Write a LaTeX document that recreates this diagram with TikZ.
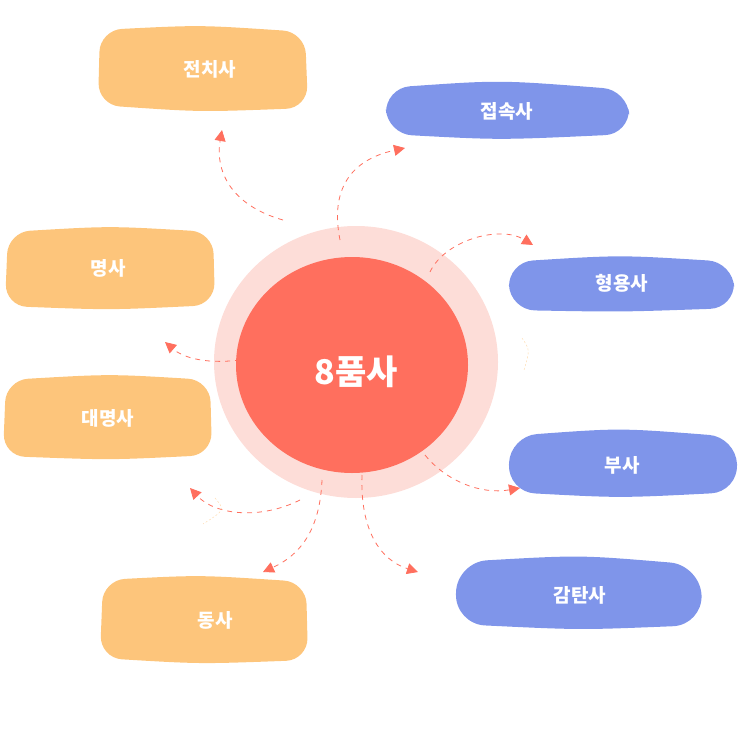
\documentclass[tikz,border=0pt]{standalone}
\usepackage{fontspec}
\newfontfamily\kr{Noto Sans CJK KR}
\usetikzlibrary{arrows.meta}
\definecolor{ora}{HTML}{FDC57B}
\definecolor{blu}{HTML}{7F95EA}
\definecolor{tom}{HTML}{FF6F5E}
\definecolor{pnk}{HTML}{FDDDD8}
\begin{document}
\begin{tikzpicture}[x=1pt,y=-1pt,
 lbl/.style={text=white,font=\kr\bfseries\fontsize{19}{22}\selectfont},
 blob/.style={rounded corners=22pt},
 arr/.style={draw=tom,thick,dash pattern=on 5pt off 5pt,-{Triangle[length=11pt,width=11pt]}},
 faint/.style={draw=ora!70,thin,dash pattern=on 2pt off 2pt}]
\useasboundingbox (0,0) rectangle (743,743);
% boxes
\fill[ora,blob] (100,30) .. controls (200,25) .. (305,32) -- (308,108) .. controls (200,112) .. (98,105) -- cycle;
\node[lbl] (jeon) at (210,69) {전치사};
\fill[blu,rounded corners=25pt] (385,88) .. controls (500,80) .. (628,90) -- (630,134) .. controls (500,140) .. (387,134) -- cycle;
\node[lbl] (jeop) at (507,111) {접속사};
\fill[blu,rounded corners=25pt] (508,262) .. controls (620,255) .. (733,262) -- (735,308) .. controls (620,312) .. (510,310) -- cycle;
\node[lbl] (hyeong) at (622,283) {형용사};
\fill[ora,blob] (8,232) .. controls (110,226) .. (213,232) -- (215,305) .. controls (110,310) .. (5,306) -- cycle;
\node[lbl] (myeong) at (108,268) {명사};
\fill[ora,blob] (6,380) .. controls (110,374) .. (210,380) -- (212,455) .. controls (110,460) .. (3,456) -- cycle;
\node[lbl] (dae) at (108,418) {대명사};
\fill[blu,rounded corners=27pt] (510,436) .. controls (620,428) .. (736,437) -- (738,492) .. controls (620,498) .. (508,492) -- cycle;
\node[lbl] (busa) at (622,465) {부사};
\fill[blu,rounded corners=30pt] (457,562) .. controls (580,555) .. (700,565) -- (703,625) .. controls (580,630) .. (455,624) -- cycle;
\node[lbl] (gam) at (580,595) {감탄사};
\fill[ora,blob] (103,580) .. controls (200,575) .. (306,582) -- (308,660) .. controls (200,664) .. (100,658) -- cycle;
\node[lbl] (dong) at (215,620) {동사};
% center
\fill[pnk] (356,362) ellipse (142 and 136);
\fill[tom] (352,365) ellipse (116 and 108);
\node[text=white,font=\kr\bfseries\fontsize{34}{40}\selectfont] (center) at (356,372) {8품사};
% arrow endpoints
\coordinate (a1) at (283,220); \coordinate (b1) at (222,130);
\coordinate (a2) at (340,240); \coordinate (b2) at (405,148);
\coordinate (a3) at (430,272); \coordinate (b3) at (533,245);
\coordinate (a4) at (240,360); \coordinate (b4) at (165,342);
\coordinate (a5) at (425,455); \coordinate (b5) at (520,488);
\coordinate (a6) at (300,500); \coordinate (b6) at (190,488);
\coordinate (a7) at (322,480); \coordinate (b7) at (263,572);
\coordinate (a8) at (362,475); \coordinate (b8) at (418,572);
\draw[arr] (a1) .. controls (230,205) and (215,170) .. (b1);
\draw[arr] (a2) .. controls (330,190) and (350,160) .. (b2);
\draw[arr] (a3) .. controls (445,240) and (500,225) .. (b3);
\draw[arr] (a4) .. controls (200,365) and (180,355) .. (b4);
\draw[arr] (a5) .. controls (445,480) and (480,495) .. (b5);
\draw[arr] (a6) .. controls (260,520) and (215,515) .. (b6);
\draw[arr] (a7) .. controls (320,530) and (300,555) .. (b7);
\draw[arr] (a8) .. controls (360,530) and (380,560) .. (b8);
\draw[faint] (522,338) .. controls (530,350) .. (524,370);
\draw[faint] (215,498) .. controls (225,510) .. (203,524);
\end{tikzpicture}
\end{document}
